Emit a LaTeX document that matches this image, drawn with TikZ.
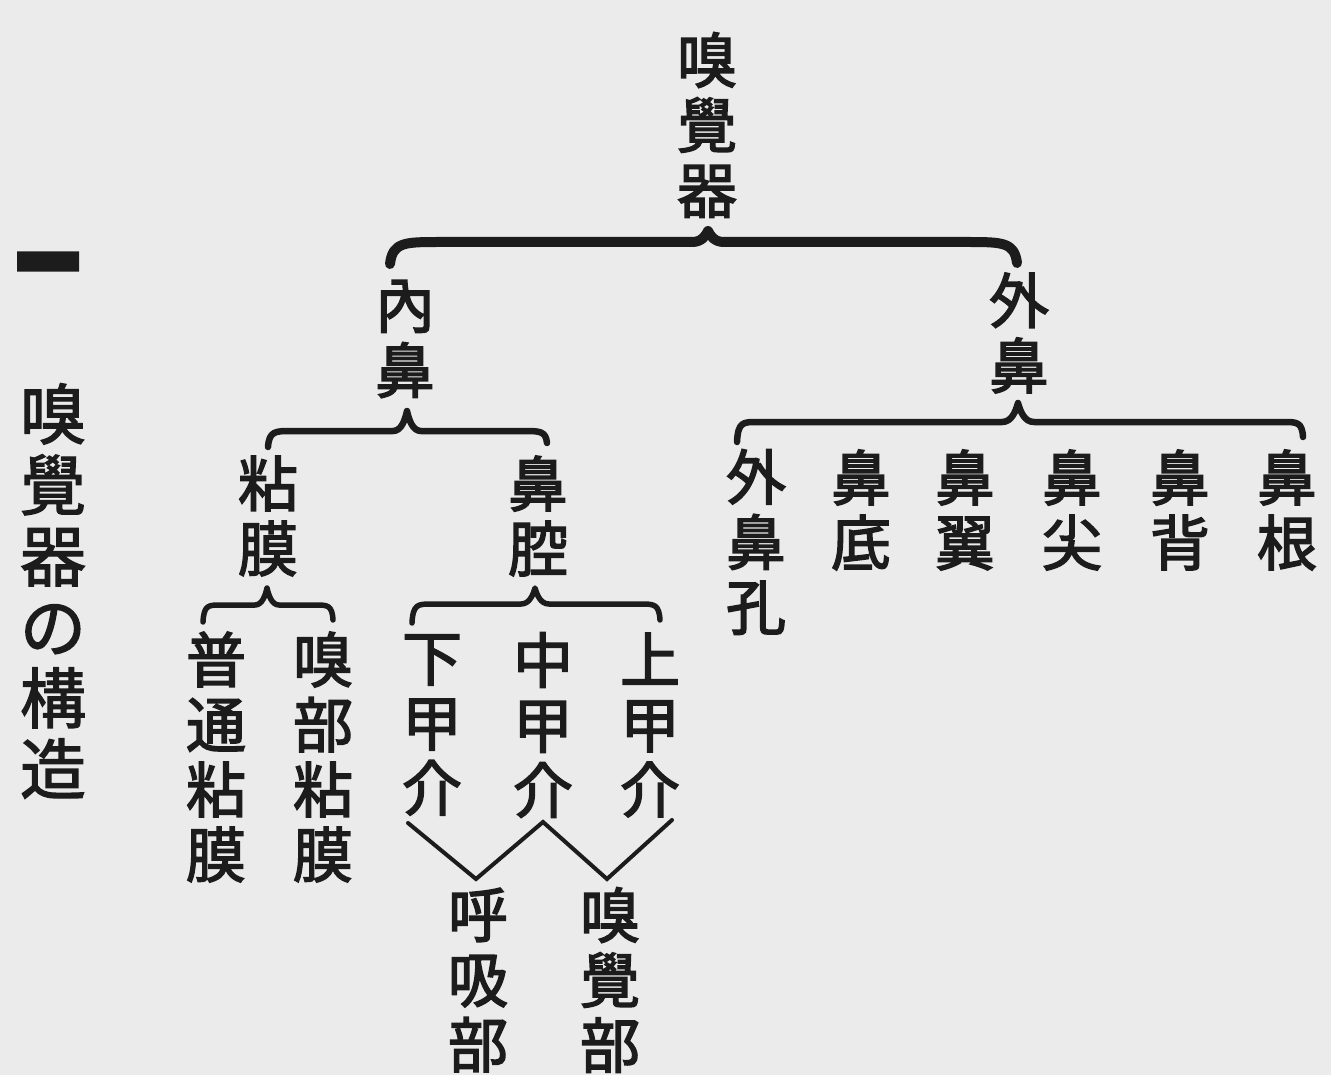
\documentclass[tikz,border=0pt]{standalone}
\usepackage{fontspec}
\usepackage{graphicx}
\newfontfamily\cjk[FakeBold=2.5]{Noto Sans CJK JP}
\newfontfamily\cjkt[FakeBold=2]{Noto Sans CJK JP}
\usetikzlibrary{calc}
\definecolor{paper}{RGB}{235,235,235}
\definecolor{ink}{RGB}{28,28,28}
\tikzset{
  lbl/.style={font=\cjk\fontsize{60}{65}\selectfont, text=ink, align=center, inner sep=0pt},
  ttl/.style={font=\cjkt\fontsize{66}{71}\selectfont, text=ink, align=center, inner sep=0pt},
  brcA/.style={draw=ink, line width=10pt, line cap=round, line join=round},
  brcB/.style={draw=ink, line width=6.5pt, line cap=round, line join=round},
  brcC/.style={draw=ink, line width=5.5pt, line cap=round, line join=round},
  vline/.style={draw=ink, line width=4pt, line cap=round, line join=miter},
}
% #1 tip, #2 left end, #3 right end, #4 rise, #5 corner width, #6 tip half width, #7 style
\newcommand\curly[7]{%
  \draw[#7] let \p1=(#1), \p2=(#2), \p3=(#3) in
    (\p2) .. controls (\x2+0.05*#5pt,\y1-#4pt) and (\x2+0.3*#5pt,\y1-#4pt) .. (\x2+#5pt,\y1-#4pt)
    -- (\x1-#6pt,\y1-#4pt)
    .. controls (\x1-0.4*#6pt,\y1-#4pt) and (\x1-0.15*#6pt,\y1-0.45*#4pt) .. (\p1)
    .. controls (\x1+0.15*#6pt,\y1-0.45*#4pt) and (\x1+0.4*#6pt,\y1-#4pt) .. (\x1+#6pt,\y1-#4pt)
    -- (\x3-#5pt,\y1-#4pt)
    .. controls (\x3-0.3*#5pt,\y1-#4pt) and (\x3-0.05*#5pt,\y1-#4pt) .. (\p3);
}
\begin{document}
\begin{tikzpicture}[x=1pt,y=-1pt]
\fill[paper] (0,0) rectangle (1331,1075);
\useasboundingbox (0,0) rectangle (1331,1075);

% left title
\node[ttl] (one) at (48,296) {\scalebox{1}[3]{一}};
\node[ttl] (title) at (53,591) {嗅\\覺\\器\\の\\構\\造};

% tree nodes
\node[lbl] (top) at (707,125) {嗅\\覺\\器};
\node[lbl] (nb) at (405,339) {內\\鼻};
\node[lbl] (wb) at (1019,333) {外\\鼻};
\node[lbl] (nm) at (268,516) {粘\\膜};
\node[lbl] (bq) at (538,516) {鼻\\腔};
\node[lbl] (pt) at (216,757) {普\\通\\粘\\膜};
\node[lbl] (xb) at (323,757) {嗅\\部\\粘\\膜};
\node[lbl] (xia) at (432,725) {下\\甲\\介};
\node[lbl] (zho) at (543,725) {中\\甲\\介};
\node[lbl] (sha) at (650,725) {上\\甲\\介};
\node[lbl] (hx) at (478,980) {呼\\吸\\部};
\node[lbl] (xj) at (610,980) {嗅\\覺\\部};
\node[lbl] (wbk) at (756,542) {外\\鼻\\孔};
\node[lbl] (bd) at (861,510) {鼻\\底};
\node[lbl] (by) at (965,510) {鼻\\翼};
\node[lbl] (bj) at (1072,510) {鼻\\尖};
\node[lbl] (bb) at (1180,510) {鼻\\背};
\node[lbl] (bg) at (1287,510) {鼻\\根};

% brace points
\coordinate (t1) at (708,231);
\coordinate (l1) at (390,264);
\coordinate (r1) at (1017,263);
\coordinate (t2) at (407,411);
\coordinate (l2) at (268,447);
\coordinate (r2) at (547,443);
\coordinate (t3) at (1018,403);
\coordinate (l3) at (737,442);
\coordinate (r3) at (1303,437);
\coordinate (t4) at (267,588);
\coordinate (l4) at (203,622);
\coordinate (r4) at (333,620);
\coordinate (t5) at (535,588);
\coordinate (l5) at (412,623);
\coordinate (r5) at (660,620);

\curly{t1}{l1}{r1}{11}{50}{16}{brcA}
\curly{t2}{l2}{r2}{20}{24}{14}{brcB}
\curly{t3}{l3}{r3}{19}{20}{16}{brcB}
\curly{t4}{l4}{r4}{17}{18}{12}{brcC}
\curly{t5}{l5}{r5}{16}{20}{14}{brcC}

% V connectors
\coordinate (v1) at (408,823);
\coordinate (v2) at (476,879);
\coordinate (v3) at (543,822);
\coordinate (v4) at (607,879);
\coordinate (v5) at (672,820);
\draw[vline] (v1) -- (v2) -- (v3) -- (v4) -- (v5);
\end{tikzpicture}
\end{document}
